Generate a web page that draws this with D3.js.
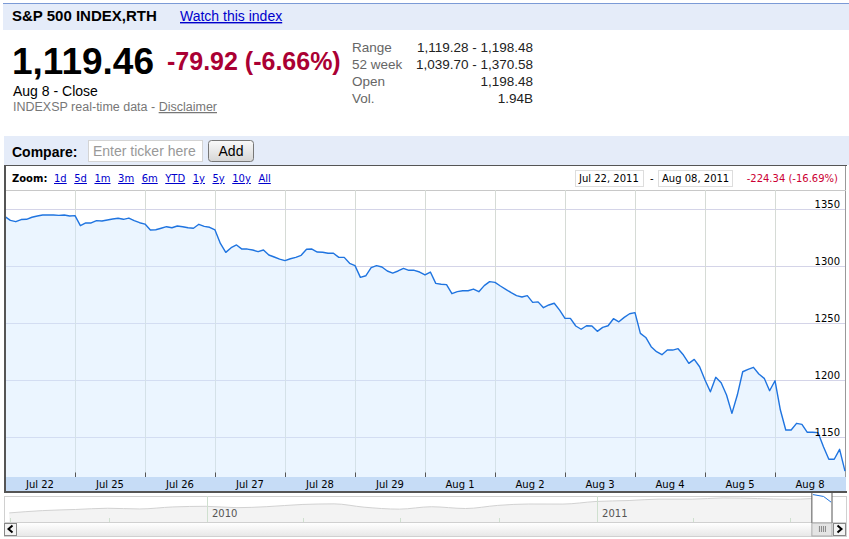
<!DOCTYPE html>
<html>
<head>
<meta charset="utf-8">
<script src="https://cdn.jsdelivr.net/npm/d3@7"></script>
<style>
body { margin: 0; background: #fff; }
svg { display: block; }
</style>
</head>
<body>
<div id="page"></div>
<script>
// trading sessions on the x axis
var days = ["Jul 22", "Jul 25", "Jul 26", "Jul 27", "Jul 28", "Jul 29",
            "Aug 1", "Aug 2", "Aug 3", "Aug 4", "Aug 5", "Aug 8"];

// half-hour prices, one array per session
var jul22 = [1343.6, 1340.3, 1339.1, 1341.0, 1341.2, 1343.0, 1344.1, 1345.0, 1345.0, 1345.0, 1344.7, 1345.0, 1344.1];
var jul25 = [1344.4, 1335.6, 1338.0, 1338.0, 1340.0, 1339.7, 1340.6, 1341.5, 1342.1, 1341.2, 1342.3, 1340.0, 1338.2];
var jul26 = [1337.0, 1331.8, 1332.0, 1333.3, 1334.7, 1333.8, 1335.3, 1334.7, 1333.8, 1333.3, 1336.8, 1335.0, 1334.2];
var jul27 = [1331.8, 1320.0, 1312.1, 1316.2, 1318.6, 1315.0, 1315.0, 1314.2, 1312.7, 1314.2, 1309.8, 1308.0, 1306.2];
var jul28 = [1304.8, 1306.5, 1307.7, 1309.5, 1314.8, 1315.0, 1312.4, 1312.2, 1311.3, 1311.3, 1307.7, 1307.7, 1302.5];
var jul29 = [1300.4, 1290.1, 1291.5, 1298.6, 1300.4, 1299.2, 1295.7, 1293.9, 1295.7, 1298.0, 1296.3, 1296.3, 1294.8];
var aug1  = [1292.2, 1294.8, 1284.8, 1284.0, 1283.7, 1275.7, 1277.5, 1278.3, 1278.3, 1279.8, 1277.5, 1282.8, 1286.3];
var aug2  = [1285.7, 1282.5, 1279.6, 1276.6, 1274.0, 1272.8, 1274.0, 1268.1, 1268.5, 1263.4, 1265.8, 1267.3, 1261.3];
var aug3  = [1254.0, 1254.0, 1247.3, 1244.4, 1247.5, 1247.3, 1242.6, 1246.1, 1247.5, 1253.7, 1251.0, 1254.9, 1258.1];
var aug4  = [1259.0, 1240.8, 1237.2, 1229.1, 1224.7, 1222.0, 1226.1, 1226.1, 1227.3, 1221.7, 1214.4, 1217.9, 1211.4];
var aug5  = [1199.7, 1189.4, 1202.1, 1197.4, 1186.5, 1170.4, 1186.5, 1207.0, 1209.1, 1210.9, 1205.0, 1201.2, 1190.3];
var aug8  = [1199.1, 1173.3, 1155.7, 1155.7, 1161.6, 1160.7, 1153.7, 1153.7, 1153.4, 1141.0, 1130.0, 1130.0, 1138.7];
var lastClose = 1119.46;

var priceTicks = [1150, 1200, 1250, 1300, 1350];

var statLabels = ["Range", "52 week", "Open", "Vol."];
var statValues = ["1,119.28 - 1,198.48", "1,039.70 - 1,370.58", "1,198.48", "1.94B"];
var zoomLinks = ["1d", "5d", "1m", "3m", "6m", "YTD", "1y", "5y", "10y", "All"];

// month-end closes for the overview strip under the chart
var navDates = ["2009-06-30", "2009-07-31", "2009-08-31", "2009-09-30", "2009-10-30", "2009-11-30",
                "2009-12-31", "2010-01-29", "2010-02-26", "2010-03-31", "2010-04-30", "2010-05-28",
                "2010-06-30", "2010-07-30", "2010-08-31", "2010-09-30", "2010-10-29", "2010-11-30",
                "2010-12-31", "2011-01-31", "2011-02-28", "2011-03-31", "2011-04-29", "2011-05-31",
                "2011-06-30", "2011-07-21"];
var navCloses = [919, 987, 1021, 1057, 1036, 1096, 1115, 1074, 1104, 1169, 1187, 1089,
                 1031, 1102, 1049, 1141, 1183, 1181, 1258, 1286, 1327, 1326, 1364, 1345,
                 1321, 1344];
var navYears = ["2010", "2011"];

var sessions = [jul22, jul25, jul26, jul27, jul28, jul29, aug1, aug2, aug3, aug4, aug5, aug8];
var slots = 13;

var series = [];
sessions.forEach(function(arr, d) {
    arr.forEach(function(v, s) {
        series.push({t: d + s / slots, v: v});
    });
});
series.push({t: days.length, v: lastClose});

var W = 849, H = 539;
var sans = "'Liberation Sans', Arial, sans-serif",
    verd = "'DejaVu Sans', Verdana, sans-serif";

var svg = d3.select("#page").append("svg")
            .attr("width", W)
            .attr("height", H);

var defs = svg.append("defs");
var btnGrad = defs.append("linearGradient").attr("id", "btn").attr("x1", 0).attr("y1", 0).attr("x2", 0).attr("y2", 1);
btnGrad.append("stop").attr("offset", "0%").attr("stop-color", "#fafafa");
btnGrad.append("stop").attr("offset", "100%").attr("stop-color", "#d6d6d6");
var scrollGrad = defs.append("linearGradient").attr("id", "scr").attr("x1", 0).attr("y1", 0).attr("x2", 0).attr("y2", 1);
scrollGrad.append("stop").attr("offset", "0%").attr("stop-color", "#ffffff");
scrollGrad.append("stop").attr("offset", "100%").attr("stop-color", "#e8e8e8");

// ---------- header ----------
svg.append("rect").attr("x", 3).attr("y", 3).attr("width", W - 3).attr("height", 27).style("fill", "#e5ecf9");
svg.append("line").attr("x1", 3).attr("x2", W).attr("y1", 3.5).attr("y2", 3.5).style("stroke", "#7b9ad6");

svg.append("text").text("S&P 500 INDEX,RTH")
   .attr("x", 12).attr("y", 21)
   .style("font", "bold 15px " + sans).style("fill", "#000");
svg.append("text").text("Watch this index")
   .attr("x", 180).attr("y", 21)
   .style("font", "14px " + sans).style("fill", "#0000cc")
   .style("text-decoration", "underline");

svg.append("text").text("1,119.46")
   .attr("x", 12).attr("y", 74)
   .style("font", "bold 37px " + sans).style("fill", "#000");
svg.append("text").text("-79.92 (-6.66%)")
   .attr("x", 167).attr("y", 70)
   .style("font", "bold 25px " + sans).style("fill", "#aa0033");
svg.append("text").text("Aug 8 - Close")
   .attr("x", 13).attr("y", 96)
   .style("font", "14px " + sans).style("fill", "#000");

var src = svg.append("text").attr("x", 13).attr("y", 111)
             .style("font", "12.5px " + sans).style("fill", "#777");
src.append("tspan").text("INDEXSP real-time data - ");
src.append("tspan").text("Disclaimer").style("text-decoration", "underline");

var stats = svg.append("g").selectAll("g")
               .data(statLabels)
               .enter().append("g")
               .attr("transform", function(d, i) { return "translate(0," + (52 + i * 17) + ")"; });
stats.append("text").text(function(d) { return d; })
     .attr("x", 352)
     .style("font", "13.5px " + sans).style("fill", "#666");
stats.append("text").text(function(d, i) { return statValues[i]; })
     .attr("x", 533).attr("text-anchor", "end")
     .style("font", "13.5px " + sans).style("fill", "#222");

// ---------- compare bar ----------
svg.append("rect").attr("x", 4).attr("y", 136).attr("width", W - 4).attr("height", 29).style("fill", "#e5ecf9");
svg.append("text").text("Compare:")
   .attr("x", 12).attr("y", 157)
   .style("font", "bold 14px " + sans).style("fill", "#000");
svg.append("rect").attr("x", 88.5).attr("y", 140.5).attr("width", 114).attr("height", 21)
   .style("fill", "#fff").style("stroke", "#d4d4d4");
svg.append("text").text("Enter ticker here")
   .attr("x", 93).attr("y", 156)
   .style("font", "14px " + sans).style("fill", "#999");
svg.append("rect").attr("x", 208.5).attr("y", 140.5).attr("width", 45).attr("height", 21)
   .attr("rx", 3).attr("ry", 3)
   .style("fill", "url(#btn)").style("stroke", "#777");
svg.append("text").text("Add")
   .attr("x", 231).attr("y", 156).attr("text-anchor", "middle")
   .style("font", "14px " + sans).style("fill", "#000");

// ---------- chart frame ----------
var left = 5, right = 845, plotTop = 190, plotBottom = 477, bandBottom = 492;

svg.append("rect").attr("x", 4.5).attr("y", 165.5).attr("width", 841).attr("height", 326)
   .style("fill", "#fff").style("stroke", "#999");

var zoomRow = svg.append("g");
zoomRow.append("text").text("Zoom:")
       .attr("x", 12).attr("y", 182)
       .style("font", "bold 10px " + verd).style("fill", "#000");
var zx = 54;
zoomLinks.forEach(function(l) {
    var t = zoomRow.append("text").text(l)
                   .attr("x", zx).attr("y", 182)
                   .style("font", "10px " + verd).style("fill", "#0000cc")
                   .style("text-decoration", "underline");
    zx += t.node().getComputedTextLength() + 7.5;
});

// date range boxes
var rangeRow = svg.append("g");
rangeRow.append("rect").attr("x", 575.5).attr("y", 170.5).attr("width", 68).attr("height", 16)
        .style("fill", "#fff").style("stroke", "#ddd");
rangeRow.append("text").text("Jul 22, 2011").attr("x", 579).attr("y", 182)
        .style("font", "10px " + verd).style("fill", "#000");
rangeRow.append("text").text("-").attr("x", 650).attr("y", 182)
        .style("font", "10px " + verd).style("fill", "#000");
rangeRow.append("rect").attr("x", 658.5).attr("y", 170.5).attr("width", 74).attr("height", 16)
        .style("fill", "#fff").style("stroke", "#ddd");
rangeRow.append("text").text("Aug 08, 2011").attr("x", 662).attr("y", 182)
        .style("font", "10px " + verd).style("fill", "#000");
rangeRow.append("text").text("-224.34 (-16.69%)").attr("x", 838).attr("y", 182)
        .attr("text-anchor", "end")
        .style("font", "10px " + verd).style("fill", "#cc0033");

var x = d3.scaleLinear()
          .domain([0, days.length])
          .range([left, right]);
var y = d3.scaleLinear()
          .domain([1114.35, 1367])
          .range([plotBottom, plotTop]);

var plot = svg.append("g");

plot.append("line").attr("x1", left).attr("x2", right + 1)
    .attr("y1", plotTop + 0.5).attr("y2", plotTop + 0.5)
    .style("stroke", "#c8c8c8");

// grid
plot.selectAll(".hgrid").data(priceTicks).enter().append("line")
    .attr("class", "hgrid")
    .attr("x1", left).attr("x2", right)
    .attr("y1", function(d) { return Math.round(y(d)) + 0.5; })
    .attr("y2", function(d) { return Math.round(y(d)) + 0.5; })
    .style("stroke", "#d4d4e8");
plot.selectAll(".vgrid").data(d3.range(1, days.length)).enter().append("line")
    .attr("class", "vgrid")
    .attr("x1", function(d) { return Math.round(x(d)) + 0.5; })
    .attr("x2", function(d) { return Math.round(x(d)) + 0.5; })
    .attr("y1", plotTop).attr("y2", plotBottom)
    .style("stroke", "#d6dbd6");

var area = d3.area()
             .x(function(d) { return x(d.t); })
             .y0(plotBottom)
             .y1(function(d) { return y(d.v); });
var line = d3.line()
             .x(function(d) { return x(d.t); })
             .y(function(d) { return y(d.v); });

plot.append("path").datum(series)
    .attr("d", area)
    .style("fill", "#d2e8ff").style("fill-opacity", 0.45);
plot.append("path").datum(series)
    .attr("d", line)
    .style("fill", "none").style("stroke", "#1f74e0").style("stroke-width", 1.4)
    .style("stroke-linejoin", "round");

// y labels
plot.selectAll(".ylab").data(priceTicks).enter().append("text")
    .attr("class", "ylab")
    .text(function(d) { return d; })
    .attr("x", 840).attr("y", function(d) { return y(d) - 1; })
    .attr("text-anchor", "end")
    .style("font", "10px " + verd).style("fill", "#000");

// x axis band
var xAxis = svg.append("g");
xAxis.append("rect").attr("x", left).attr("y", plotBottom).attr("width", right - left + 1).attr("height", bandBottom - plotBottom)
     .style("fill", "#c6dcf6");
xAxis.selectAll(".tick").data(d3.range(1, days.length)).enter().append("line")
     .attr("class", "tick")
     .attr("x1", function(d) { return Math.round(x(d)) + 0.5; })
     .attr("x2", function(d) { return Math.round(x(d)) + 0.5; })
     .attr("y1", plotBottom - 4.5).attr("y2", plotBottom)
     .style("stroke", "#555");
xAxis.selectAll(".xlab").data(days).enter().append("text")
     .attr("class", "xlab")
     .text(function(d) { return d; })
     .attr("x", function(d, i) { return x(i + 0.5); })
     .attr("y", 488)
     .attr("text-anchor", "middle")
     .style("font", "10px " + verd).style("fill", "#000");

// dark frame edges
svg.append("line").attr("x1", 5).attr("x2", 5).attr("y1", 165).attr("y2", 493).style("stroke", "#555").style("stroke-width", 2);
svg.append("line").attr("x1", 4).attr("x2", 847).attr("y1", 492).attr("y2", 492).style("stroke", "#555").style("stroke-width", 2);
svg.append("line").attr("x1", 4).attr("x2", 847).attr("y1", 165.5).attr("y2", 165.5).style("stroke", "#555");

// ---------- overview strip ----------
var parse = d3.timeParse("%Y-%m-%d");
var navTop = 496, navLine = 522, navBottom = 536;
var nx = d3.scaleTime()
           .domain([new Date(2009, 5, 26), new Date(2011, 7, 21)])
           .range([left, right]);
var ny = d3.scaleLinear()
           .domain([650, 1420])
           .range([navLine, navTop]);
var navData = navDates.map(function(d, i) { return {date: parse(d), v: navCloses[i]}; });

var nav = svg.append("g");
nav.append("rect").attr("x", 4.5).attr("y", navTop + 0.5).attr("width", 842).attr("height", navBottom - navTop)
   .style("fill", "#fff").style("stroke", "#d0d0d0");
nav.append("path").datum(navData)
   .attr("d", d3.area().x(function(d) { return nx(d.date); }).y0(navLine).y1(function(d) { return ny(d.v); }).curve(d3.curveMonotoneX))
   .style("fill", "#f3f3f3");
nav.append("path").datum(navData)
   .attr("d", d3.line().x(function(d) { return nx(d.date); }).y(function(d) { return ny(d.v); }).curve(d3.curveMonotoneX))
   .style("fill", "none").style("stroke", "#d2d2d2");

nav.selectAll(".qtick").data(nx.ticks(d3.timeMonth.every(3))).enter().append("line")
   .attr("class", "qtick")
   .attr("x1", function(d) { return Math.round(nx(d)) + 0.5; })
   .attr("x2", function(d) { return Math.round(nx(d)) + 0.5; })
   .attr("y1", function(d) { return d.getMonth() === 0 ? navTop : navLine - 4; })
   .attr("y2", navLine)
   .style("stroke", "#cfe0cf");
nav.selectAll(".year").data(navYears).enter().append("text")
   .attr("class", "year")
   .text(function(d) { return d; })
   .attr("x", function(d) { return nx(new Date(+d, 0, 1)) + 5; })
   .attr("y", 517)
   .style("font", "10px " + verd).style("fill", "#555");

nav.append("line").attr("x1", 5).attr("x2", 846).attr("y1", navLine + 0.5).attr("y2", navLine + 0.5).style("stroke", "#d0d0d0");
nav.append("rect").attr("x", 5).attr("y", navLine + 1).attr("width", 841).attr("height", navBottom - navLine - 1)
   .style("fill", "url(#scr)");

// selected window
var winL = nx(new Date(2011, 6, 21)), winR = right - 13;
nav.append("rect").attr("x", winL).attr("y", 493).attr("width", winR - winL).attr("height", navLine - 493)
   .style("fill", "#fff");
var winData = [{date: new Date(2011, 6, 22), v: 1344}, {date: new Date(2011, 7, 1), v: 1287}, {date: new Date(2011, 7, 8), v: lastClose}];
nav.append("path").datum(winData)
   .attr("d", d3.line().x(function(d) { return nx(d.date); }).y(function(d) { return ny(d.v) - 4; }))
   .style("fill", "none").style("stroke", "#1f74e0");
nav.append("line").attr("x1", winL).attr("x2", winL).attr("y1", 492).attr("y2", navLine + 1).style("stroke", "#555");
nav.append("line").attr("x1", winR).attr("x2", winR).attr("y1", 492).attr("y2", navLine + 1).style("stroke", "#555");
nav.append("rect").attr("x", winL).attr("y", navLine + 1).attr("width", winR - winL).attr("height", navBottom - navLine - 1)
   .style("fill", "#e4e4e4").style("stroke", "#aaa");
nav.selectAll(".grip").data(d3.range(4)).enter().append("line")
   .attr("class", "grip")
   .attr("x1", function(d) { return (winL + winR) / 2 - 3 + d * 2 + 0.5; })
   .attr("x2", function(d) { return (winL + winR) / 2 - 3 + d * 2 + 0.5; })
   .attr("y1", 526).attr("y2", 532)
   .style("stroke", "#888");

// scroll buttons
nav.append("rect").attr("x", 4.5).attr("y", navLine + 1.5).attr("width", 12).attr("height", 12)
   .style("fill", "#f4f4f4").style("stroke", "#888");
nav.append("path").attr("d", "M12.5,525.5 L8.5,529 L12.5,532.5").style("fill", "none").style("stroke", "#000").style("stroke-width", 2);
nav.append("rect").attr("x", 833.5).attr("y", navLine + 1.5).attr("width", 12).attr("height", 12)
   .style("fill", "#f4f4f4").style("stroke", "#888");
nav.append("path").attr("d", "M837.5,525.5 L841.5,529 L837.5,532.5").style("fill", "none").style("stroke", "#000").style("stroke-width", 2);
</script>
</body>
</html>
